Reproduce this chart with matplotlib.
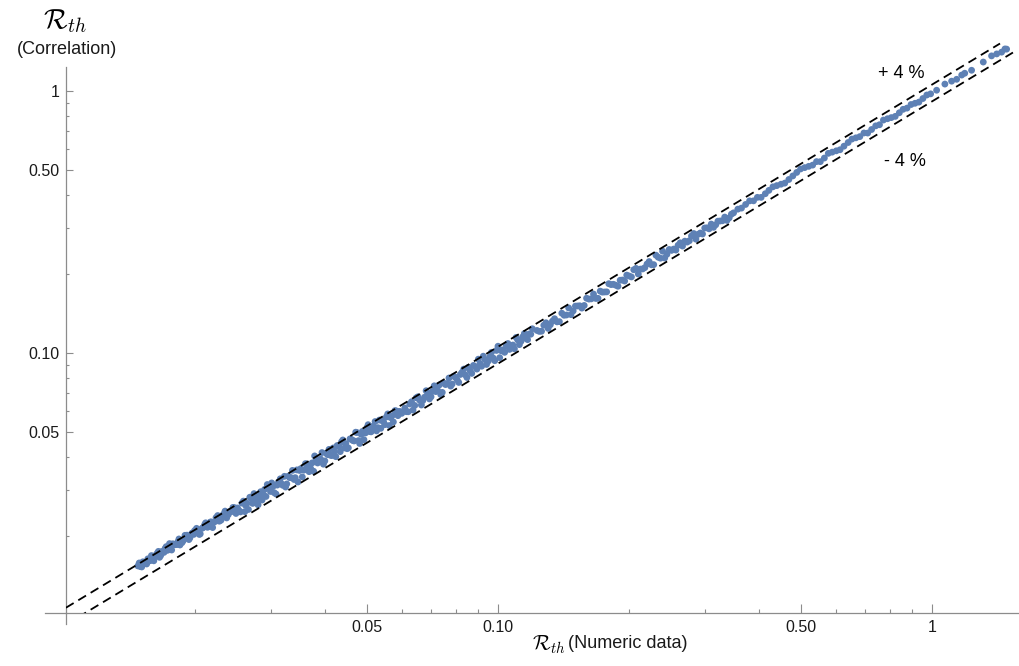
import matplotlib.pyplot as plt
import numpy as np

plt.rcParams['font.family'] = ['Liberation Sans', 'DejaVu Sans']
plt.rcParams['mathtext.fontset'] = 'cm'

# R_th from the numeric data
rth_numeric = [
    0.0148, 0.0150, 0.0152, 0.0153, 0.0155, 0.0157, 0.0159, 0.0160, 0.0162, 0.0164,
    0.0166, 0.0168, 0.0170, 0.0172, 0.0174, 0.0176, 0.0178, 0.0180, 0.0183, 0.0185,
    0.0188, 0.0190, 0.0193, 0.0195, 0.0198, 0.0200, 0.0203, 0.0206, 0.0209, 0.0212,
    0.0215, 0.0218, 0.0221, 0.0224, 0.0228, 0.0231, 0.0235, 0.0239, 0.0243, 0.0247,
    0.0251, 0.0255, 0.0259, 0.0262, 0.0266, 0.0270, 0.0274, 0.0278, 0.0282, 0.0286,
    0.0290, 0.0294, 0.0299, 0.0303, 0.0308, 0.0312, 0.0317, 0.0322, 0.0326, 0.0331,
    0.0336, 0.0341, 0.0346, 0.0351, 0.0357, 0.0362, 0.0367, 0.0373, 0.0378, 0.0384,
    0.0390, 0.0396, 0.0402, 0.0408, 0.0414, 0.0420, 0.0426, 0.0433, 0.0439, 0.0446,
    0.0452, 0.0459, 0.0466, 0.0473, 0.0480, 0.0487, 0.0495, 0.0502, 0.0510, 0.0517,
    0.0525, 0.0533, 0.0541, 0.0549, 0.0557, 0.0566, 0.0574, 0.0583, 0.0592, 0.0600,
    0.0610, 0.0621, 0.0632, 0.0643, 0.0654, 0.0666, 0.0677, 0.0689, 0.0701, 0.0713,
    0.0726, 0.0738, 0.0751, 0.0764, 0.0778, 0.0791, 0.0805, 0.0819, 0.0834, 0.0848,
    0.0863, 0.0878, 0.0894, 0.0909, 0.0925, 0.0941, 0.0958, 0.0975, 0.0992, 0.1009,
    0.1027, 0.1045, 0.1063, 0.1082, 0.1101, 0.1120, 0.1140, 0.1160, 0.1180, 0.1200,
    0.1230, 0.1260, 0.1290, 0.1320, 0.1350, 0.1385, 0.1420, 0.1455, 0.1490, 0.1525,
    0.1560, 0.1600, 0.1640, 0.1680, 0.1720, 0.1760, 0.1800, 0.1845, 0.1890, 0.1935,
    0.1980, 0.2030, 0.2080, 0.2130, 0.2180, 0.2230, 0.2285, 0.2340, 0.2395, 0.2450,
    0.2510, 0.2570, 0.2630, 0.2695, 0.2760, 0.2825, 0.2890, 0.2960, 0.3030, 0.3100,
    0.3175, 0.3250, 0.3330, 0.3410, 0.3490,
    0.357, 0.364, 0.372, 0.380, 0.388, 0.396, 0.404, 0.413, 0.421, 0.430,
    0.439, 0.449, 0.458, 0.468, 0.478, 0.488, 0.498, 0.509, 0.520, 0.531,
    0.542, 0.553, 0.565, 0.577, 0.589, 0.602, 0.614, 0.627, 0.641, 0.654,
    0.668, 0.682, 0.697, 0.711, 0.726, 0.742, 0.757, 0.773, 0.790, 0.806,
    0.823, 0.841, 0.858, 0.876, 0.895, 0.914, 0.933, 0.953, 0.973, 0.993,
    1.025, 1.071, 1.110, 1.140, 1.171, 1.190, 1.234, 1.313, 1.372, 1.410,
    1.447, 1.473, 1.486,
    # second pass through the dense part of the band
    0.0149, 0.0151, 0.0154, 0.0156, 0.0158, 0.0161, 0.0163, 0.0165, 0.0167, 0.0169,
    0.0171, 0.0173, 0.0175, 0.0177, 0.0179, 0.0182, 0.0184, 0.0187, 0.0189, 0.0192,
    0.0194, 0.0197, 0.0199, 0.0202, 0.0205, 0.0208, 0.0211, 0.0214, 0.0217, 0.0220,
    0.0223, 0.0226, 0.0230, 0.0233, 0.0237, 0.0241, 0.0245, 0.0249,
    0.0253, 0.0257, 0.0261, 0.0264, 0.0268, 0.0272, 0.0276, 0.0280, 0.0284, 0.0288,
    0.0292, 0.0297, 0.0301, 0.0305, 0.0310, 0.0315, 0.0319, 0.0324, 0.0329, 0.0334,
    0.0339, 0.0344, 0.0349, 0.0354, 0.0360, 0.0365, 0.0370, 0.0376, 0.0381, 0.0387,
    0.0393, 0.0399, 0.0405, 0.0411, 0.0417, 0.0423, 0.0430, 0.0436, 0.0443, 0.0449,
    0.0456, 0.0463, 0.0470, 0.0477, 0.0484, 0.0491, 0.0499, 0.0506, 0.0514, 0.0521,
    0.0529, 0.0537, 0.0545, 0.0553, 0.0562, 0.0570, 0.0579, 0.0588, 0.0596,
    0.0615, 0.0626, 0.0637, 0.0648, 0.0660, 0.0671, 0.0683, 0.0695, 0.0707, 0.0719,
    0.0732, 0.0744, 0.0757, 0.0771, 0.0784, 0.0798, 0.0812, 0.0826, 0.0841, 0.0855,
    0.0870, 0.0886, 0.0901, 0.0917, 0.0933, 0.0950, 0.0966, 0.0983, 0.1000, 0.1018,
    0.1036, 0.1054, 0.1072, 0.1091, 0.1110, 0.1130, 0.1150, 0.1170, 0.1190,
    0.1245, 0.1275, 0.1305, 0.1335, 0.1368, 0.1403, 0.1438, 0.1473, 0.1508, 0.1543,
    0.1580, 0.1620, 0.1660, 0.1700, 0.1740, 0.1780, 0.1822, 0.1868, 0.1912, 0.1958,
    0.2005, 0.2055, 0.2105, 0.2155, 0.2205, 0.2258, 0.2312, 0.2368, 0.2422, 0.2480,
    0.2540, 0.2600, 0.2662, 0.2728, 0.2792, 0.2858, 0.2925, 0.2995, 0.3065, 0.3138,
    0.3212, 0.3290, 0.3370, 0.3450,
]

# deviation of the correlation from the numeric value, in %
corr_dev_pct = [
    4, 2, 5, 3, 1, 4, 6, 2, 3, 5, 0, 4, 2, 6, 3, 1, 5, 3, 4, 0,
    2, 6, 3, 1, 4, 5, 2, -1, 3, 6, 1, 4, 2, 5, 0, 3, 6, 1, 2, 4,
    2, -3, 5, 0, -5, 3, 6, -2, 1, -4, 4, 7, -1, 2, -6, 3, 0, 5, -3, 1,
    6, -2, -7, 3, 0, 4, -4, 2, 7, -1, 1, -5, 3, 5, -2, 0, 4, -3, 6, 1,
    -4, 2, -1, 5, -6, 3, 0, 6, -2, 1, -4, 4, 2, -3, 5, 0, -5, 3, 1, -2,
    1, -4, 3, -2, 4, -5, 0, 2, -3, 5, -1, -6, 2, 0, -4, 3, -2, 1, 4, -5,
    -1, 2, -3, 0, 5, -4, 1, -2, 3, -5, 0, 2, -3, -1, 4, -4, 1, -2, 0, 3,
    -1, -4, 1, -3, 0, -5, -2, 2, -3, -1, -5, 1, -2, -4, 0, -3, 2, -1, -5, -2,
    0, -4, 1, -2, -3, 0, -5, -1, 2, -3, -2, -4, 0, -1, -3, 1, -2, -4, -1, 0,
    -3, -2, -1, -4, -2,
    -1, -2, -1, 0, -2, -1, -3, -2, -1, 0, -1, -2, -3, -2, -1, 0, 1, 0, -1, -2,
    -1, -3, -2, 0, -1, -2, -3, -2, -1, 0, -1, -2, -1, -3, -2, -1, -2, 0, -1, -2,
    -3, -2, -1, -2, -1, -2, -3, -2, -1, -2,
    -2, -1, -2, -3, -2, -2, -3, -2, -1, -2, -3, -2, -3,
    # second pass
    6, 1, 3, 5, 2, 0, 4, 6, 1, 3, 5, 2, 7, 0, 4, 2, 6, 1, 3, 5,
    0, 4, 2, 6, -1, 3, 5, 1, 4, -2, 2, 6, 0, 4, -1, 3, 5, -2,
    -1, 4, -5, 1, 5, -2, 2, -6, 4, 0, -3, 3, 6, -4, 1, 5, -2, -5, 3, 0,
    -3, 4, 2, -5, 5, 1, -2, -6, 3, 0, 6, -3, 1, -1, 4, -5, 2, 5, -2, -4,
    3, 0, 6, -3, 1, -5, 4, -1, 2, 5, -2, -4, 0, 3, -6, 1, 4, -2, 0,
    -3, 2, -5, 4, 0, -2, 5, -4, 1, -1, 3, -5, 0, 4, -3, 1, -5, 2, -2, 3,
    -4, 0, 5, -3, 1, -2, 4, -5, 6, 0, -3, 3, -1, -5, 1, -2, 3, -4, -1,
    -3, 0, -5, -1, -4, 1, -3, -5, 0, -2, -4, -1, 1, -5, -2, -4, 0, -3, -1, -4,
    -2, 1, -5, -3, -1, -4, 2, -3, -5, 0, -2, -1, -4, -3, 0, -5, -2, 0, -3, -4,
    -1, -3, -5, -2,
]

# the +/- bounds (dashed)
plus_x = [0.0101, 1.435]
plus_y = [0.01066, 1.514]
minus_x = [0.0101, 1.537]
minus_y = [0.00919, 1.399]

major_ticks = [0.05, 0.1, 0.5, 1]
major_labels = ["0.05", "0.10", "0.50", "1"]
minor_ticks = [0.02, 0.03, 0.04, 0.06, 0.07, 0.08, 0.09,
               0.2, 0.3, 0.4, 0.6, 0.7, 0.8, 0.9]

x = np.array(rth_numeric)
y = x * (1 + np.array(corr_dev_pct) / 100.0)

fig = plt.figure(figsize=(10.19, 6.66), dpi=100)
ax = fig.add_axes([0.0645, 0.0796, 0.9355, 0.9204])
ax.set_xscale('log')
ax.set_yscale('log')
ax.set_xlim(0.01009, 1.587)
ax.set_ylim(0.01018, 2.219)

ax.scatter(x, y, s=24, color='#5E81B5', edgecolors='none', zorder=2)
ax.plot(plus_x, plus_y, color='black', lw=1.3, ls=(0, (5, 3)), zorder=3)
ax.plot(minus_x, minus_y, color='black', lw=1.3, ls=(0, (5, 3)), zorder=3)

axis_gray = '#8c8c8c'
for side in ['top', 'right']:
    ax.spines[side].set_visible(False)
for side in ['left', 'bottom']:
    ax.spines[side].set_color(axis_gray)
    ax.spines[side].set_linewidth(0.9)
ax.spines['left'].set_bounds(0.01018, 1.23)
# small overshoot of the axes past the origin
ax.plot([-0.022, 0], [0, 0], transform=ax.transAxes, color=axis_gray, lw=0.9, clip_on=False)
ax.plot([0, 0], [-0.018, 0], transform=ax.transAxes, color=axis_gray, lw=0.9, clip_on=False)

ax.set_xticks(major_ticks, major_labels)
ax.set_yticks(major_ticks, major_labels)
ax.set_xticks(minor_ticks, minor=True)
ax.set_yticks(minor_ticks, minor=True)
ax.xaxis.set_minor_formatter(plt.NullFormatter())
ax.yaxis.set_minor_formatter(plt.NullFormatter())
ax.tick_params(axis='x', which='major', direction='in', length=6.5, width=0.8,
               color=axis_gray, labelsize=11.5, labelcolor='#1a1a1a', pad=5)
ax.tick_params(axis='x', which='minor', direction='in', length=3.2, width=0.8, color=axis_gray)
ax.tick_params(axis='y', which='major', direction='in', length=5, width=0.8,
               color=axis_gray, labelsize=11.5, labelcolor='#1a1a1a', pad=4.5)
ax.tick_params(axis='y', which='minor', direction='in', length=2.2, width=0.8, color=axis_gray)

fig.text(65 / 1019, 1 - 21 / 666, r'$\mathcal{R}_{th}$', fontsize=20, ha='center', va='center')
fig.text(67 / 1019, 1 - 50 / 666, '(Correlation)', fontsize=13, ha='center', va='center', color='#1a1a1a')
fig.text(566 / 1019, 1 - 645 / 666, r'$\mathcal{R}_{th}$', fontsize=15,
         ha='right', va='center')
fig.text(568 / 1019, 1 - 643 / 666, '(Numeric data)', fontsize=13,
         ha='left', va='center', color='#1a1a1a')

fig.text(901 / 1019, 1 - 73 / 666, '+ 4 %', fontsize=13, ha='center', va='center')
fig.text(905 / 1019, 1 - 161 / 666, '- 4 %', fontsize=13, ha='center', va='center')

fig.savefig('out.png', dpi=100)
